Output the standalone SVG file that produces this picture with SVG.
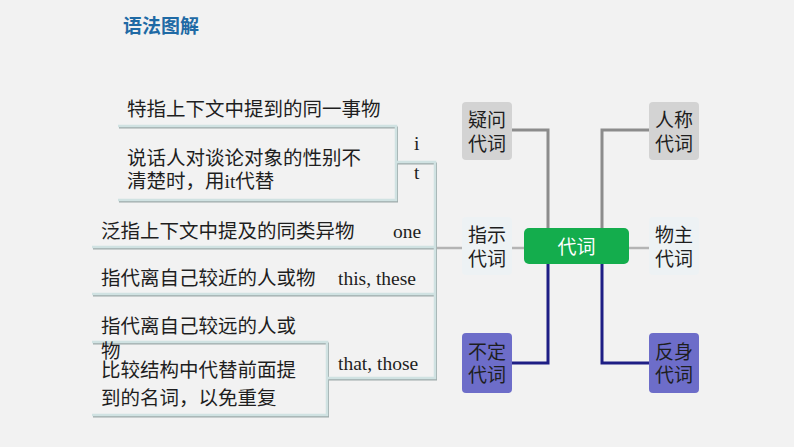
<svg xmlns="http://www.w3.org/2000/svg" width="794" height="447" viewBox="0 0 794 447">
<style>
.cn{font-family:"Noto Sans CJK SC","Noto Sans",sans-serif;font-size:19.5px;fill:#1e1e1e}
.en{font-family:"Liberation Serif",serif;font-size:19.5px;fill:#1e1e1e}
.nd{font-family:"Noto Sans CJK SC","Noto Sans",sans-serif;font-size:19px;fill:#1e1e1e;text-anchor:middle}
.br{fill:none;stroke:#d0e2e2;stroke-width:2.5}
.sh{fill:none;stroke:#9eaaaa;stroke-width:2}
.gy{fill:none;stroke:#8c8c8c;stroke-width:3}
.lg{fill:none;stroke:#b4b4b4;stroke-width:2.5}
.bl{fill:none;stroke:#1f1f85;stroke-width:3}
</style>
<rect width="794" height="447" fill="#f2f2f2"/>
<text x="123" y="33" style="font-family:'Noto Sans CJK SC',sans-serif;font-size:19px;font-weight:bold;fill:#1f6aa5">语法图解</text>

<g id="connectors">
  <g transform="translate(1,1.5)">
    <path class="sh" d="M118,126 H396 V200 H118"/>
    <path class="sh" d="M396,162 H435 V378 H327"/>
    <path class="sh" d="M92,342 H327 V415 H92"/>
    <path class="sh" d="M92,247 H435"/>
    <path class="sh" d="M92,294 H435"/>
  </g>
  <path class="br" d="M118,126 H396 V200 H118"/>
  <path class="br" d="M396,162 H435 V378 H327"/>
  <path class="br" d="M92,342 H327 V415 H92"/>
  <path class="br" d="M92,247 H435"/>
  <path class="br" d="M92,294 H435"/>
  <path class="lg" d="M437,248 H462"/>
  <path class="lg" d="M512,248 H524"/>
  <path class="lg" d="M629,248 H649"/>
  <path class="gy" d="M512,130 H548 V228"/>
  <path class="gy" d="M649,130 H602 V228"/>
  <path class="bl" d="M512,363 H548 V264"/>
  <path class="bl" d="M649,363 H602 V264"/>
</g>

<g id="left-texts">
  <text class="cn" x="127" y="116">特指上下文中提到的同一事物</text>
  <text class="cn" x="127" y="165">说话人对谈论对象的性别不</text>
  <text class="cn" x="127" y="188">清楚时，用<tspan class="en">it</tspan>代替</text>
  <text class="en" x="414" y="150">i</text>
  <text class="en" x="414" y="179">t</text>
  <text class="cn" x="101" y="238">泛指上下文中提及的同类异物</text>
  <text class="en" x="393" y="238">one</text>
  <text class="cn" x="101" y="285">指代离自己较近的人或物</text>
  <text class="en" x="338" y="285">this, these</text>
  <text class="cn" x="101" y="333">指代离自己较远的人或</text>
  <text class="cn" x="101" y="358">物</text>
  <text class="cn" x="101" y="377">比较结构中代替前面提</text>
  <text class="cn" x="101" y="405">到的名词，以免重复</text>
  <text class="en" x="338" y="370">that, those</text>
</g>

<g id="node-yiwen">
  <rect x="462" y="102" width="50" height="58" rx="4" fill="#d3d3d3"/>
  <text class="nd" x="487" y="127">疑问</text>
  <text class="nd" x="487" y="151">代词</text>
</g>
<g id="node-rencheng">
  <rect x="649" y="102" width="50" height="58" rx="4" fill="#d3d3d3"/>
  <text class="nd" x="674" y="127">人称</text>
  <text class="nd" x="674" y="151">代词</text>
</g>
<g id="node-center">
  <rect x="524" y="228" width="105" height="36" rx="5" fill="#14ad4d"/>
  <text class="nd" x="576.5" y="254" style="fill:#ffffff">代词</text>
</g>
<g id="node-zhishi">
  <rect x="462" y="217" width="50" height="58" rx="4" fill="#edf2f4"/>
  <text class="nd" x="487" y="242">指示</text>
  <text class="nd" x="487" y="266">代词</text>
</g>
<g id="node-wuzhu">
  <rect x="649" y="217" width="50" height="58" rx="4" fill="#edf2f4"/>
  <text class="nd" x="674" y="242">物主</text>
  <text class="nd" x="674" y="266">代词</text>
</g>
<g id="node-buding">
  <rect x="462" y="333" width="50" height="60" rx="4" fill="#6d6dc9"/>
  <text class="nd" x="487" y="359">不定</text>
  <text class="nd" x="487" y="382">代词</text>
</g>
<g id="node-fanshen">
  <rect x="649" y="333" width="50" height="60" rx="4" fill="#6d6dc9"/>
  <text class="nd" x="674" y="359">反身</text>
  <text class="nd" x="674" y="382">代词</text>
</g>
</svg>
